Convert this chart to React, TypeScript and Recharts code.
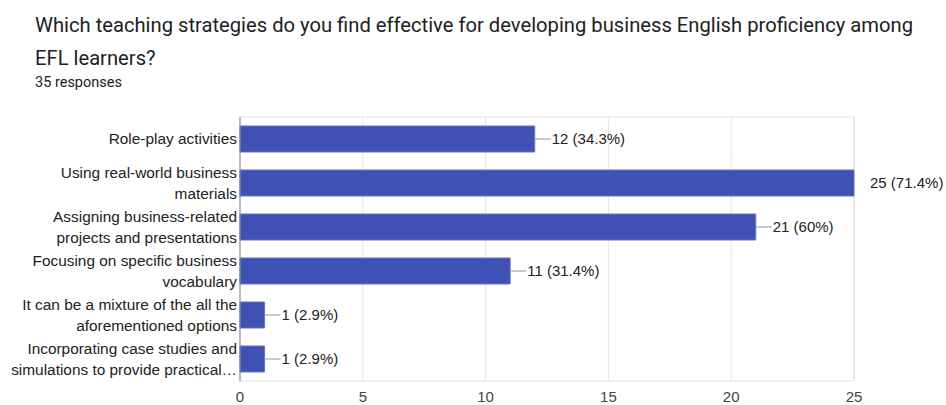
import React from 'react';
import {
  BarChart, Bar, XAxis, YAxis, CartesianGrid, ReferenceArea, LabelList
} from 'recharts';

const categories = [
  'Role-play activities',
  'Using real-world business materials',
  'Assigning business-related projects and presentations',
  'Focusing on specific business vocabulary',
  'It can be a mixture of the all the aforementioned options',
  'Incorporating case studies and simulations to provide practical',
];

const labelLines = [
  ['Role-play activities'],
  ['Using real-world business', 'materials'],
  ['Assigning business-related', 'projects and presentations'],
  ['Focusing on specific business', 'vocabulary'],
  ['It can be a mixture of the all the', 'aforementioned options'],
  ['Incorporating case studies and', 'simulations to provide practical…'],
];

const counts = [12, 25, 21, 11, 1, 1];
const percents = ['34.3%', '71.4%', '60%', '31.4%', '2.9%', '2.9%'];

const xTicks = [0, 5, 10, 15, 20, 25];
const minorTicks = [2.5, 7.5, 12.5, 17.5, 22.5];
const maxCount = 25;
const totalResponses = 35;

const data = categories.map((name, i) => ({
  name,
  count: counts[i],
  label: `${counts[i]} (${percents[i]})`,
}));

const labelFont = '"Liberation Sans", Arial, sans-serif';

// y-axis labels are pre-wrapped into two lines like the original
const CategoryTick = ({ y, index }: any) => {
  const lines: string[] = labelLines[index] || [];
  const lh = 21;
  const start = -((lines.length - 1) * lh) / 2;
  return (
    <g>
      {lines.map((ln, k) => (
        <text
          key={k}
          x={237}
          y={y + start + k * lh}
          dy="0.35em"
          textAnchor="end"
          fontSize={15.4}
          fontFamily={labelFont}
          fill="#222"
        >
          {ln}
        </text>
      ))}
    </g>
  );
};

const ValueTick = ({ x, y, payload }: any) => (
  <text x={x} y={y + 8} dy="0.35em" textAnchor="middle" fontSize={15} fontFamily={labelFont} fill="#444">
    {payload.value}
  </text>
);

const ValueLabel = (props: any) => {
  const { x, y, width, height, value, index } = props;
  const endX = x + width;
  const cy = y + height / 2;
  const isMax = counts[index] >= maxCount;
  return (
    <g>
      {!isMax && <line x1={endX} y1={cy} x2={endX + 16} y2={cy} stroke="#999" strokeWidth={1} />}
      <text
        x={endX + (isMax ? 16 : 17)}
        y={cy}
        dy="0.35em"
        fontSize={15}
        fontFamily={labelFont}
        fill="#222"
      >
        {value}
      </text>
    </g>
  );
};

const App: React.FC = () => {
  return (
    <div style={{ position: 'absolute', left: 0, top: 0, width: 946, height: 405, background: '#fff' }}>
      <div
        style={{
          position: 'absolute', left: 35, top: 9, width: 905,
          fontFamily: 'Roboto, sans-serif', fontSize: 20.2, lineHeight: '33px', color: '#202124',
        }}
      >
        Which teaching strategies do you find effective for developing business English proficiency among EFL learners?
      </div>
      <div
        style={{
          position: 'absolute', left: 35, top: 74,
          fontFamily: 'Roboto, sans-serif', fontSize: 14.5, color: '#202124',
        }}
      >
        {totalResponses} responses
      </div>
      <div style={{ position: 'absolute', left: 0, top: 0 }}>
        <BarChart
          width={946}
          height={405}
          data={data}
          layout="vertical"
          margin={{ top: 117, right: 92, bottom: 0, left: 0 }}
        >
          <CartesianGrid horizontal={false} xAxisId="minor" stroke="#efefef" />
          <CartesianGrid horizontal={false} stroke="#e6e6e6" />
          <ReferenceArea x1={0} x2={maxCount} fill="none" stroke="#e2e2e2" strokeWidth={1} />
          <XAxis
            xAxisId="minor"
            type="number"
            domain={[0, maxCount]}
            ticks={minorTicks}
            orientation="top"
            height={0}
            axisLine={false}
            tickLine={false}
            tick={false}
          />
          <XAxis
            type="number"
            domain={[0, maxCount]}
            ticks={xTicks}
            axisLine={false}
            tickLine={false}
            height={24}
            tick={<ValueTick />}
            interval={0}
          />
          <YAxis
            type="category"
            dataKey="name"
            width={240}
            axisLine={{ stroke: '#8a8a8a' }}
            tickLine={false}
            tick={<CategoryTick />}
            interval={0}
          />
          <Bar
            dataKey="count"
            fill="#3f51b5"
            stroke="#6675c4"
            strokeWidth={1}
            barSize={26}
            isAnimationActive={false}
          >
            <LabelList dataKey="label" content={<ValueLabel />} />
          </Bar>
        </BarChart>
      </div>
    </div>
  );
};

export default App;
